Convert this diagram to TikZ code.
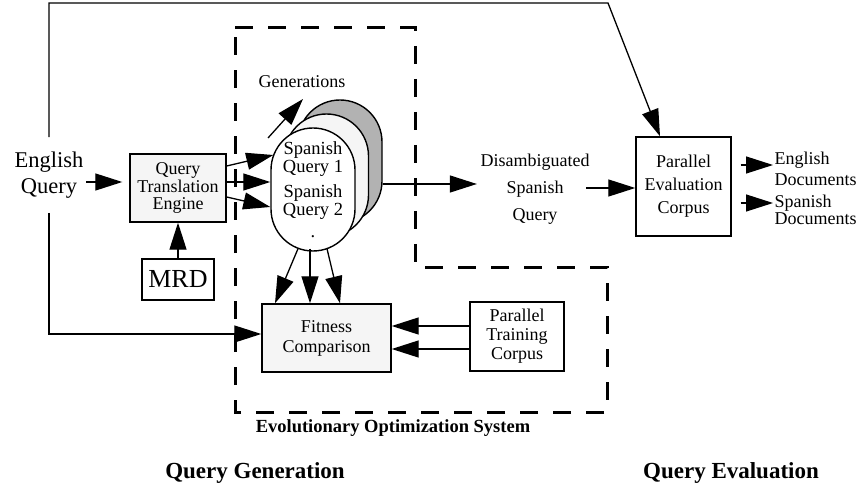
\documentclass[tikz,border=0pt]{standalone}
\usepackage{fontspec}
\setmainfont{Liberation Serif}
\usetikzlibrary{arrows.meta,positioning}
\newcommand{\fs}[2]{\fontsize{#1}{#2}\selectfont}

\begin{document}
\begin{tikzpicture}[x=1pt,y=-1pt,line width=1.3pt,
    >={Triangle[length=27pt,width=17pt]},
    box/.style={draw,line width=1.4pt,align=center,inner sep=0pt,font=\fs{18}{19}},
    shadebox/.style={box,fill=black!4},
    pill/.style={draw,line width=1.4pt,minimum width=84pt,minimum height=123pt,
      rounded corners=42pt,align=center,inner sep=0pt},
    plain/.style={align=center,inner sep=1pt,font=\fs{18}{19}}]

  \useasboundingbox (0,0) rectangle (864,494);

  % Evolutionary optimization region
  \draw[line width=3pt,dash pattern=on 18pt off 15pt]
    (235,28) -- (415,28) -- (415,267) -- (607,267) -- (607,412) -- (235,412) -- cycle;
  \node[font=\bfseries\fs{18.5}{20}] (evo) at (393,428) {Evolutionary Optimization System};

  % Input side
  \node[align=center,inner xsep=2pt,inner ysep=14pt,font=\fs{22.5}{26}] (eng) at (49,175) {English\\Query};
  \node[shadebox,minimum width=96pt,minimum height=68pt,font=\fs{18}{17.5}] (qte) at (178,188) {Query\\Translation\\Engine};
  \node[box,minimum width=72pt,minimum height=41pt,font=\fs{26}{28}] (mrd) at (178,279.5) {MRD};

  % Stacked query generations
  \node[pill,fill=black!30] (qback) at (340,161.5) {};
  \node[pill,fill=black!4] (qmid) at (326.5,175.5) {};
  \node[pill,fill=white,font=\fs{18.5}{18}] (q) at (313,189.5) {Spanish\\Query 1\\[7pt]Spanish\\Query 2\\[4pt].};
  \node[plain] (gen) at (302,82) {Generations};
  \coordinate (g0) at (268,138);
  \coordinate (g1) at (303,99);
  \draw[->] (g0) -- (g1);

  % Fitness
  \node[shadebox,minimum width=129pt,minimum height=68pt,font=\fs{18}{20}] (fit) at (326.5,338) {Fitness\\Comparison};
  \node[box,minimum width=94pt,minimum height=69pt] (ptc) at (517,336.5) {Parallel\\Training\\Corpus};

  % Evaluation side
  \node[align=center,inner sep=3pt,font=\fs{18}{27}] (dis) at (535,189) {Disambiguated\\Spanish\\Query};
  \node[box,minimum width=95pt,minimum height=99pt,font=\fs{18}{23}] (pec) at (683.5,186.5) {Parallel\\Evaluation\\Corpus};
  \node[anchor=west,align=left,inner sep=1pt,font=\fs{18}{21}] (engdoc) at (773,168.5) {English\\Documents};
  \node[anchor=west,align=left,inner sep=1pt,font=\fs{18}{17}] (spadoc) at (773,210) {Spanish\\Documents};

  \node[font=\bfseries\fs{23}{25}] (qgen) at (255,473) {Query Generation};
  \node[font=\bfseries\fs{23}{25}] (qeval) at (731,473) {Query Evaluation};

  % Connectors
  \draw[->] ([yshift=-7pt]eng.east) -- ([xshift=-7pt,yshift=6pt]qte.west);
  \draw[->] (mrd.north) -- (qte.south);
  \draw[->] ([yshift=22pt]qte.east) -- ([xshift=3pt,yshift=34.5pt]q.west);
  \draw[->] ([yshift=6pt]qte.east) -- ([yshift=7.5pt]q.west);
  \draw[->] ([yshift=-9pt]qte.east) -- ([yshift=-17.5pt]q.west);

  % back to English query
  \coordinate (tr) at (608,3);
  \draw[->] (eng.north) |- (tr) -- ([xshift=-23.5pt]pec.north);
  \draw[->] (eng.south) |- ([yshift=4pt]fit.west);

  % to fitness
  \foreach \dx/\ex in {-15/-51.5, -3/-16.5, 14/13.5}{
    \draw[->] ([xshift=\dx pt,yshift=3pt]q.south) -- ([xshift=\ex pt]fit.north);
  }
  \draw[->] ([yshift=10.5pt]ptc.west) -- ([yshift=12pt]fit.east);
  \draw[->] ([yshift=-12.5pt]ptc.west) -- ([yshift=-11pt]fit.east);

  % to evaluation
  \draw[->] ([yshift=-22.5pt]qback.east) -- ([yshift=5pt]dis.west);
  \draw[->] ([xshift=-7pt,yshift=1pt]dis.east) -- ([yshift=-1.5pt]pec.west);
  \draw[->] ([xshift=9pt,yshift=21.5pt]pec.east) -- ([yshift=3.5pt]engdoc.west);
  \draw[->] ([xshift=9pt,yshift=-16.5pt]pec.east) -- ([yshift=7pt]spadoc.west);

\end{tikzpicture}
\end{document}
